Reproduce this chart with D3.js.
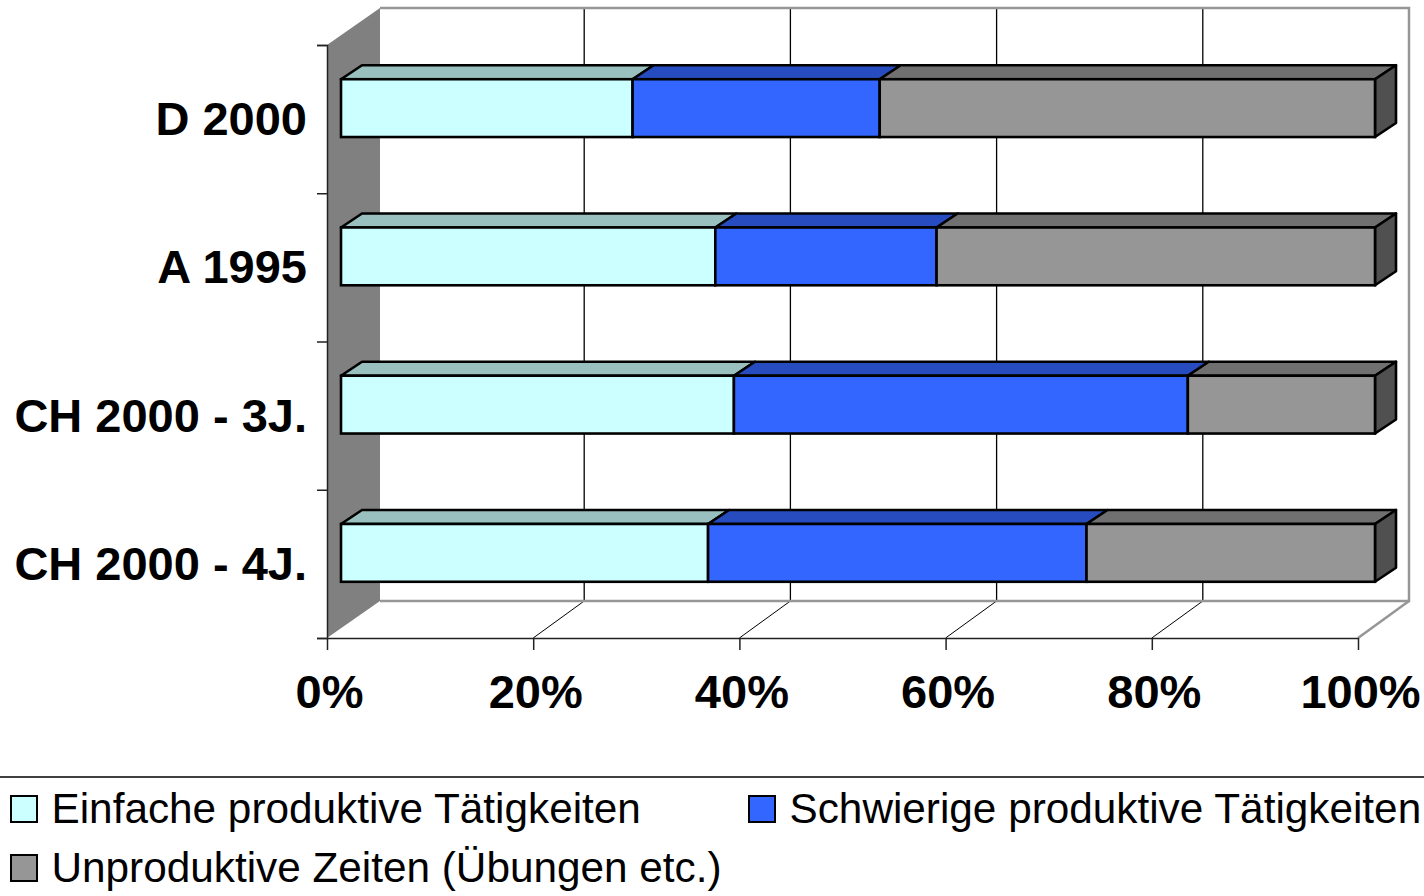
<!DOCTYPE html>
<html>
<head>
<meta charset="utf-8">
<script src="https://cdn.jsdelivr.net/npm/d3@7"></script>
<style>
html, body { margin: 0; padding: 0; background: #fff; overflow: hidden; }
text { font-family: "Liberation Sans", Arial, sans-serif; fill: #000; }
</style>
</head>
<body>
<div id="chart"></div>
<script>
var categories = ["D 2000", "A 1995", "CH 2000 - 3J.", "CH 2000 - 4J."];
var seriesNames = ["Einfache produktive Tätigkeiten", "Schwierige produktive Tätigkeiten", "Unproduktive Zeiten (Übungen etc.)"];
var einfach = [28.2, 36.2, 38.0, 35.5];
var schwierig = [23.9, 21.4, 43.9, 36.6];
var unproduktiv = [47.9, 42.4, 18.1, 27.9];
var xTicks = [0, 20, 40, 60, 80, 100];

var frontColors = ["#CCFFFF", "#3366FF", "#969696"];
var topColors = ["#99BFBF", "#264CBF", "#707070"];
var sideColor = "#505050";

var width = 1424, height = 896;

var svg = d3.select("#chart").append("svg")
    .attr("width", width)
    .attr("height", height)
    .style("display", "block");

// front plane of the box, the back wall sits at an offset
var x = d3.scaleLinear().domain([0, 100]).range([327, 1358]);
var y = d3.scaleBand().domain(categories).range([45, 638]).paddingInner(0.61).paddingOuter(0.305);
var wallDx = 51, wallDy = -37;
// bars stand a bit inside the box
var barX = d3.scaleLinear().domain([0, 100]).range([341, 1375]);
var barDy = -11;
var depthX = 21, depthY = -14;

var top0 = y.range()[0], bot0 = y.range()[1];

// left wall
svg.append("polygon")
    .attr("points", [[x(0), top0], [x(0) + wallDx + 2, top0 + wallDy], [x(0) + wallDx + 2, bot0 + wallDy], [x(0), bot0]].join(" "))
    .attr("fill", "#808080");

// gridlines on back wall and floor
xTicks.slice(1, -1).forEach(function(t) {
    svg.append("line").attr("x1", x(t) + wallDx).attr("x2", x(t) + wallDx)
        .attr("y1", top0 + wallDy).attr("y2", bot0 + wallDy)
        .attr("stroke", "#000").attr("stroke-width", 1.3);
    svg.append("line").attr("x1", x(t)).attr("x2", x(t) + wallDx)
        .attr("y1", bot0).attr("y2", bot0 + wallDy)
        .attr("stroke", "#000").attr("stroke-width", 1);
});

// grey outline of the box
svg.append("path")
    .attr("d", "M" + (x(0) + wallDx + 2) + "," + (top0 + wallDy) + "H" + (x(100) + wallDx) + "V" + (bot0 + wallDy) + "H" + (x(0) + wallDx + 2))
    .attr("fill", "none").attr("stroke", "#969696").attr("stroke-width", 2.5);
svg.append("line").attr("x1", x(100)).attr("x2", x(100) + wallDx)
    .attr("y1", bot0).attr("y2", bot0 + wallDy)
    .attr("stroke", "#969696").attr("stroke-width", 2.5);

// axis lines and ticks
var axisY = d3.axisLeft(d3.scalePoint().domain(d3.range(5)).range([top0, bot0])).tickSize(10).tickFormat("");
svg.append("g").attr("transform", "translate(" + x(0) + ",0)").call(axisY)
    .selectAll("path,line").attr("stroke", "#222").attr("stroke-width", 1.5);

var axisX = d3.axisBottom(x).tickValues(xTicks).tickSize(12).tickSizeOuter(0).tickFormat(function(d) { return d + "%"; });
var gx = svg.append("g").attr("transform", "translate(0," + bot0 + ")").call(axisX);
gx.selectAll("path,line").attr("stroke", "#222").attr("stroke-width", 1.5);
gx.selectAll("text")
    .attr("y", 0).attr("dy", null)
    .attr("transform", "translate(2,70)")
    .style("font-size", "47px").style("font-weight", "bold").style("font-family", "Liberation Sans").attr("fill", "#000");

// category labels
svg.selectAll(".cat").data(categories).enter().append("text")
    .attr("class", "cat")
    .attr("x", 307)
    .attr("y", function(d) { return y(d) + y.bandwidth() / 2 + 16; })
    .attr("text-anchor", "end")
    .style("font-size", "47px").style("font-weight", "bold")
    .text(function(d) { return d; });

// stacked bars
var rows = categories.map(function(c, i) {
    return { cat: c, a: einfach[i], b: schwierig[i], c: unproduktiv[i] };
});
var stack = d3.stack().keys(["a", "b", "c"])(rows);

stack.forEach(function(layer, k) {
    var g = svg.append("g");
    layer.forEach(function(d) {
        var cat = d.data.cat;
        var x0 = barX(d[0]), x1 = barX(d[1]);
        var y0 = y(cat) + barDy, y1 = y0 + y.bandwidth();
        g.append("polygon")
            .attr("points", [[x0, y0], [x0 + depthX, y0 + depthY], [x1 + depthX, y0 + depthY], [x1, y0]].join(" "))
            .attr("fill", topColors[k]).attr("stroke", "#000").attr("stroke-width", 2.6).attr("stroke-linejoin", "round");
        if (k == 2) {
            g.append("polygon")
                .attr("points", [[x1, y0], [x1 + depthX, y0 + depthY], [x1 + depthX, y1 + depthY], [x1, y1]].join(" "))
                .attr("fill", sideColor).attr("stroke", "#000").attr("stroke-width", 2.6).attr("stroke-linejoin", "round");
        }
        g.append("rect")
            .attr("x", x0).attr("y", y0)
            .attr("width", x1 - x0).attr("height", y1 - y0)
            .attr("fill", frontColors[k]).attr("stroke", "#000").attr("stroke-width", 2.6);
    });
});

// legend
svg.append("line").attr("x1", 0).attr("x2", width).attr("y1", 777).attr("y2", 777)
    .attr("stroke", "#000").attr("stroke-width", 1.5);

var legendX = [11, 749, 11], legendY = [796, 796, 855];
seriesNames.forEach(function(name, i) {
    svg.append("rect")
        .attr("x", legendX[i]).attr("y", legendY[i])
        .attr("width", 26).attr("height", 26)
        .attr("fill", frontColors[i]).attr("stroke", "#000").attr("stroke-width", 2);
    svg.append("text")
        .attr("x", legendX[i] + 40.5).attr("y", legendY[i] + 27)
        .style("font-size", "42.3px")
        .text(name);
});
</script>
</body>
</html>
